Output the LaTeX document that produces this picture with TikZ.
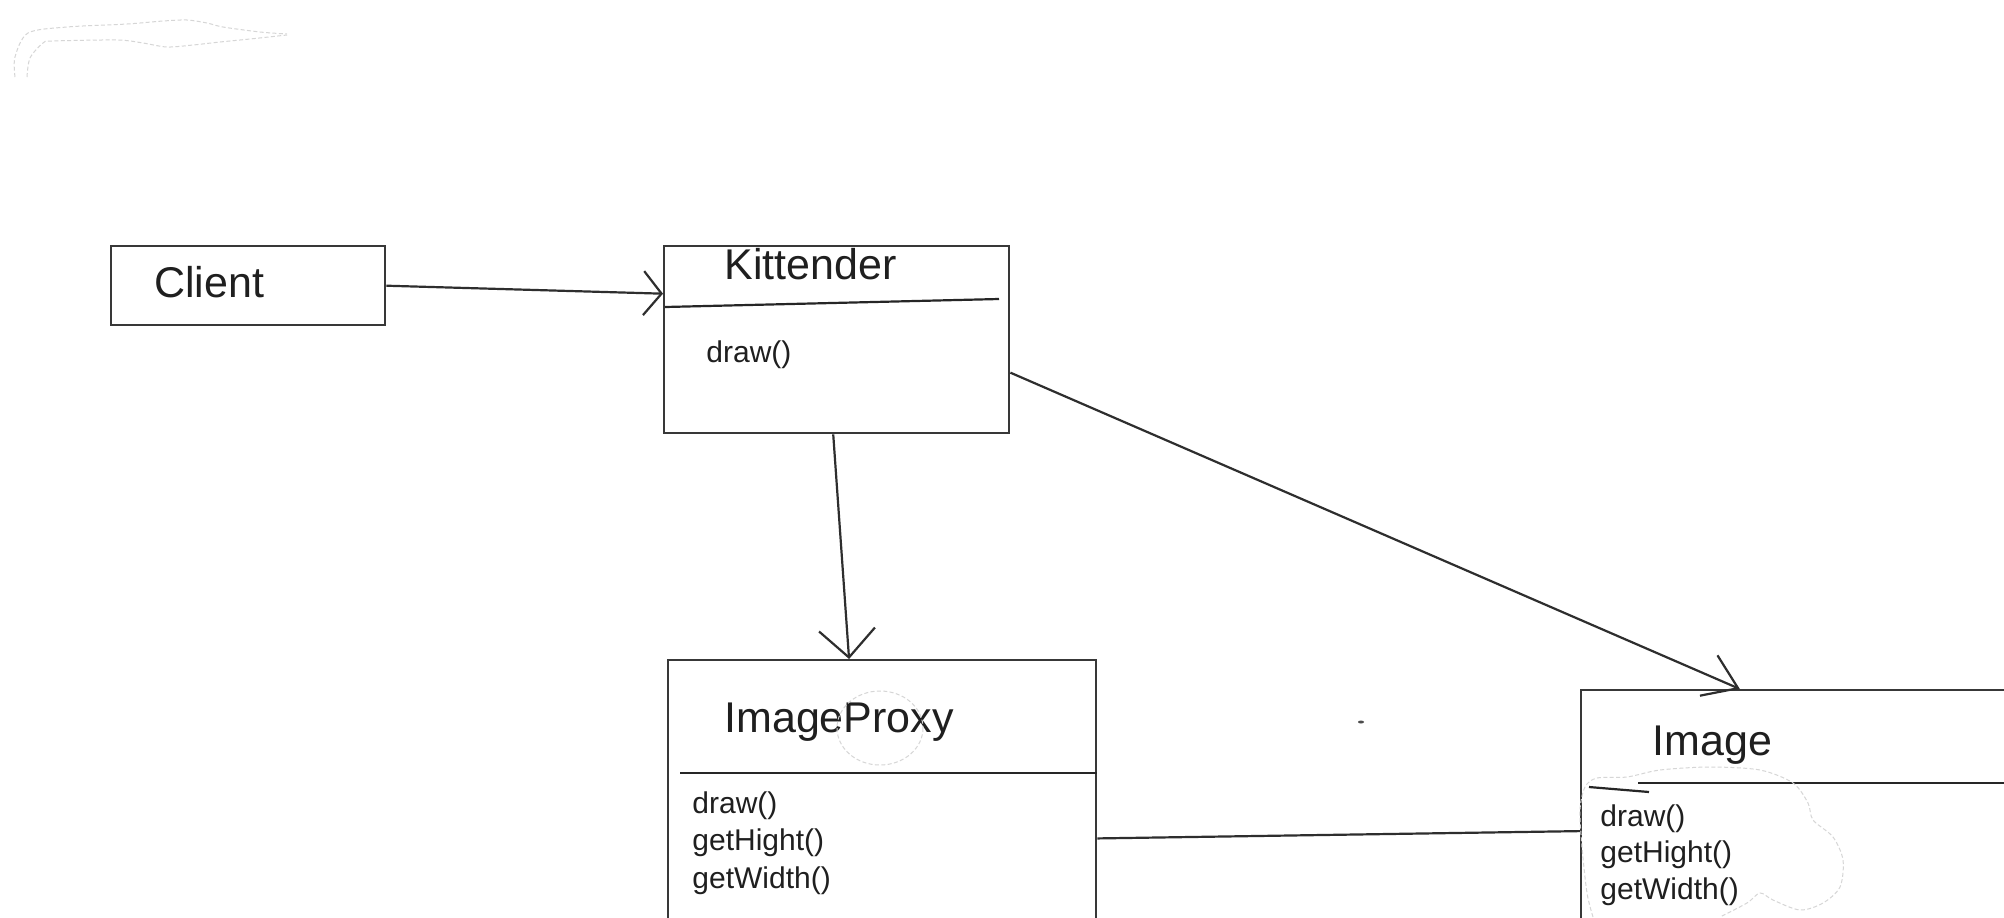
\documentclass[tikz,border=0pt]{standalone}
\usepackage{fontspec}
\setmainfont{Liberation Sans}
\usetikzlibrary{arrows.meta,calc}
\tikzset{
  classbox/.style={draw=black!78, line width=1.2pt, rectangle, inner sep=0pt, anchor=north west},
  title/.style={inner sep=0pt, anchor=base west, text=black!88, font=\fontsize{21.5pt}{26pt}\selectfont},
  ops/.style={inner sep=0pt, anchor=base west, text=black!88, font=\fontsize{15pt}{18pt}\selectfont},
  sepline/.style={draw=black!85, line width=1.1pt},
  assoc/.style={draw=black!82, line width=1.1pt},
  faint/.style={draw=black!16, line width=0.5pt, dash pattern=on 2pt off 1.2pt},
}
\begin{document}
\begin{tikzpicture}[x=0.5pt,y=-0.5pt]
\useasboundingbox (0,0) rectangle (2004,917);
\clip (0,0) rectangle (2004,917);
\fill[white] (0,0) rectangle (2004,917);

% class boxes
\node[classbox, minimum width=137pt, minimum height=39.5pt] (client) at (110,245) {};
\node[classbox, minimum width=172.5pt, minimum height=93.5pt] (kit) at (663,245) {};
\node[classbox, minimum width=214pt, minimum height=170pt] (proxy) at (667,659) {};
\node[classbox, minimum width=260pt, minimum height=170pt] (img) at (1580,689) {};

% compartment lines
\draw[sepline] (665,307) -- (999,299);
\draw[sepline] (680,773) -- (proxy.east |- 0,773);
\draw[sepline] (1638,783) -- (2010,783);
\draw[sepline] (1589,787) -- (1649,792);

% class names
\node[title] (clientname) at (154,297) {Client};
\node[title] (kitname) at (724,279) {Kittender};
\node[title] (proxyname) at (724,732) {ImageProxy};
\node[title] (imgname) at (1652,755) {Image};

% operations
\node[ops] (kitop) at (706,362) {draw()};
\node[ops] (pop1) at (692,813) {draw()};
\node[ops] (pop2) at (692,850.5) {getHight()};
\node[ops] (pop3) at (692,888) {getWidth()};
\node[ops] (iop1) at (1600,826) {draw()};
\node[ops] (iop2) at (1600,862.5) {getHight()};
\node[ops] (iop3) at (1600,899) {getWidth()};

% connector end points on the box edges
\coordinate (kitin)   at ($(kit.north west)!0.257!(kit.south west)$);
\coordinate (kitdown) at ($(kit.south west)!0.49!(kit.south east)$);
\coordinate (kitout)  at ($(kit.north east)!0.674!(kit.south east)$);
\coordinate (proxyin) at ($(proxy.north west)!0.423!(proxy.north east)$);
\coordinate (proxyout) at ($(proxy.north east)!0.524!(proxy.south east)$);
\coordinate (imgtop)  at ($(img.north west)!0.306!(img.north east)$);
\coordinate (imgside) at ($(img.north west)!0.415!(img.south west)$);

% associations
\draw[assoc, -{Straight Barb[length=9pt,width=22pt]}] (client.east) -- (kitin);
\draw[assoc, -{Straight Barb[length=14pt,width=28pt]}] (kitdown) -- (proxyin);
\draw[assoc, -{Straight Barb[length=16pt,width=22pt]}] (kitout) -- (imgtop);
\draw[assoc] (proxyout) -- (imgside);

% stray marks left on the sheet
\draw[faint] plot[smooth] coordinates {(27,77) (30,58) (43,43) (53,41) (117,40) (143,43) (167,47) (193,45) (220,42) (250,39) (287,35)};
\draw[faint] plot[smooth] coordinates {(15,77) (15,57) (28,33) (67,27) (127,24) (163,21) (187,20) (207,23) (223,27) (260,32) (287,34)};
\draw[faint] (880,728) ellipse [x radius=43, y radius=37];
\draw[faint] plot[smooth] coordinates {(1593,917) (1587,893) (1582,847) (1580,810) (1585,787) (1597,778) (1627,777) (1660,770) (1710,767) (1760,770) (1793,783) (1808,803) (1813,820) (1833,837) (1843,860) (1840,887) (1823,903) (1800,910) (1773,900) (1760,893) (1747,903) (1720,917)};
\fill[black!70] (1361,722) ellipse [x radius=3, y radius=1.5];
\end{tikzpicture}
\end{document}
